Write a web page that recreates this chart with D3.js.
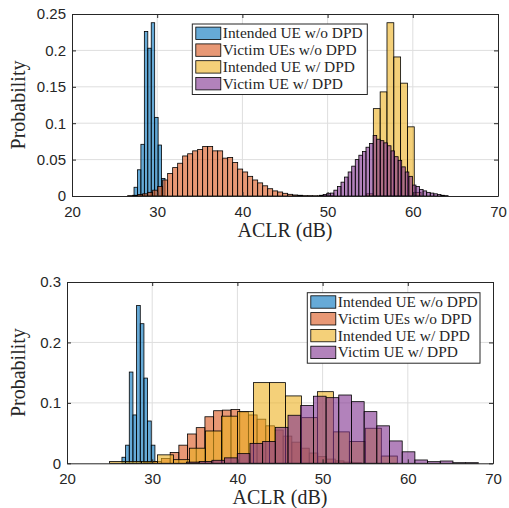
<!DOCTYPE html>
<html>
<head>
<meta charset="utf-8">
<script src="https://cdn.jsdelivr.net/npm/d3@7"></script>
<style>
	body { margin: 0; background: #fff; }
	svg { display: block; }
	.tick text { font-family: "Liberation Sans", Arial, Helvetica, sans-serif; font-size: 15px; fill: #262626; }
</style>
</head>
<body>
<div id="chart"></div>
<script>
// series shared by both panels
const seriesNames = ["Intended UE w/o DPD", "Victim UEs w/o DPD", "Intended UE w/ DPD", "Victim UE w/ DPD"]
const seriesColors = ["#0072BD", "#D95319", "#EDB120", "#7E2F8E"]

const xTicks = [20, 30, 40, 50, 60, 70]
const serif = "'Liberation Serif', 'Times New Roman', Times, 'DejaVu Serif', serif"

// top panel: [first bin edge, bin width] in dB, then probabilities per bin
const topBins = [[27.28, 0.404], [26.53, 0.587], [54.57, 0.8], [49.06, 0.419]]
const topBlue = [0.012, 0.036, 0.071, 0.226, 0.203, 0.238, 0.108, 0.070, 0.024]
const topOrange = [0.0005, 0.001, 0.002, 0.003, 0.005, 0.008, 0.013,
	0.022, 0.031, 0.039, 0.045, 0.055, 0.058, 0.062, 0.064, 0.068, 0.068,
	0.062, 0.062, 0.052, 0.053, 0.046, 0.037, 0.033, 0.027, 0.022, 0.018,
	0.014, 0.010, 0.007, 0.0055, 0.0037, 0.0023, 0.0014, 0.001, 0.0005,
	0.0005, 0.0004, 0.0003, 0.0003, 0.0002]
const topYellow = [0.003, 0.12, 0.143, 0.238, 0.191, 0.155, 0.095, 0.005]
const topPurple = [0.001, 0.002, 0.0037, 0.004, 0.008, 0.013, 0.019, 0.026, 0.033,
	0.041, 0.050, 0.056, 0.061, 0.067, 0.072, 0.083, 0.078, 0.076, 0.073,
	0.069, 0.062, 0.054, 0.049, 0.040, 0.033, 0.027, 0.015, 0.013, 0.009,
	0.007, 0.005, 0.004, 0.003, 0.002, 0.001, 0.0005]
const topYTicks = [0, 0.05, 0.1, 0.15, 0.2, 0.25]
const topYLabels = ["0", "0.05", "0.1", "0.15", "0.2", "0.25"]

// bottom panel
const botBins = [[26.45, 0.43], [29.05, 1.02], [25.0, 1.876], [34.03, 1.489]]
const botBlue = [0.010, 0.030, 0.151, 0.080, 0.261, 0.231, 0.141, 0.070, 0.030]
const botOrange = [0.001, 0.003, 0.008, 0.018, 0.030, 0.0485, 0.059, 0.077, 0.087,
	0.088, 0.089, 0.085, 0.080, 0.073, 0.062, 0.055, 0.045, 0.035, 0.025,
	0.017, 0.011, 0.007, 0.004, 0.002, 0.001]
const botYellow = [0.003, 0.003, 0.003, 0.014, 0.006, 0.025, 0.0535, 0.078, 0.0855,
	0.1335, 0.1335, 0.1115, 0.0755, 0.1185, 0.052, 0.036, 0.058, 0.012]
const botPurple = [0.002, 0.003, 0.005, 0.009, 0.016, 0.033, 0.036, 0.0595, 0.0795,
	0.0955, 0.111, 0.1086, 0.113, 0.102, 0.0855, 0.062, 0.037, 0.019, 0.0055,
	0.0027, 0.0038, 0.001, 0.001]
const botYTicks = [0, 0.1, 0.2, 0.3]
const botYLabels = ["0", "0.1", "0.2", "0.3"]

const svg = d3.select("#chart").append("svg")
	.attr("width", 509)
	.attr("height", 508)

function panel(opt) {
	const x = d3.scaleLinear().domain([20, 70]).range([opt.left, opt.right])
	const y = d3.scaleLinear().domain(opt.yDomain).range([opt.bottom, opt.top])
	const g = svg.append("g")

	// grid
	g.append("g").selectAll("line")
		.data(xTicks.slice(1, -1)).enter().append("line")
		.attr("x1", d => x(d)).attr("x2", d => x(d))
		.attr("y1", opt.top).attr("y2", opt.bottom)
		.attr("stroke", "#dedede").attr("stroke-width", 1)
	g.append("g").selectAll("line")
		.data(opt.yTicks.slice(1, -1)).enter().append("line")
		.attr("x1", opt.left).attr("x2", opt.right)
		.attr("y1", d => y(d)).attr("y2", d => y(d))
		.attr("stroke", "#dedede").attr("stroke-width", 1)

	// histograms, drawn in legend order
	opt.series.forEach((vals, i) => {
		const [start, w] = opt.bins[i]
		g.append("g").selectAll("rect")
			.data(vals.map((v, j) => ({ x0: start + j * w, x1: start + (j + 1) * w, v })))
			.enter().append("rect")
			.attr("x", d => x(d.x0))
			.attr("width", d => x(d.x1) - x(d.x0))
			.attr("y", d => y(d.v))
			.attr("height", d => y(0) - y(d.v))
			.attr("fill", seriesColors[i])
			.attr("fill-opacity", 0.6)
			.attr("stroke", "#000")
			.attr("stroke-width", 0.8)
	})

	// axes with inward ticks on all four sides
	const gx = g.append("g").attr("transform", `translate(0,${opt.bottom})`)
		.call(d3.axisBottom(x).tickValues(xTicks).tickSize(-4).tickSizeOuter(0).tickPadding(10).tickFormat(d3.format("d")))
	const gy = g.append("g").attr("transform", `translate(${opt.left},0)`)
		.call(d3.axisLeft(y).tickValues(opt.yTicks).tickSize(-4).tickSizeOuter(0).tickPadding(6)
			.tickFormat((d, i) => opt.yLabels[i]))
	const gt = g.append("g").attr("transform", `translate(0,${opt.top})`)
		.call(d3.axisTop(x).tickValues(xTicks).tickSize(-4).tickSizeOuter(0).tickFormat(""))
	const gr = g.append("g").attr("transform", `translate(${opt.right},0)`)
		.call(d3.axisRight(y).tickValues(opt.yTicks).tickSize(-4).tickSizeOuter(0).tickFormat(""))
	;[gx, gy, gt, gr].forEach(a => {
		a.selectAll("path.domain").attr("stroke", "#262626").attr("stroke-width", 1)
		a.selectAll(".tick line").attr("stroke", "#262626")
	})
	gx.selectAll(".tick text").attr("fill", "#262626")
	gy.selectAll(".tick text").attr("fill", "#262626")

	// labels
	g.append("text")
		.attr("x", (opt.left + opt.right) / 2).attr("y", opt.bottom + 41)
		.attr("text-anchor", "middle")
		.attr("font-family", serif).attr("font-size", 20).attr("fill", "#262626")
		.text("ACLR (dB)")
	g.append("text")
		.attr("transform", `translate(25,${(opt.top + opt.bottom) / 2}) rotate(-90)`)
		.attr("text-anchor", "middle")
		.attr("font-family", serif).attr("font-size", 20).attr("fill", "#262626")
		.text("Probability")

	// legend
	const lg = g.append("g").attr("transform", `translate(${opt.legX},${opt.legY})`)
	lg.append("rect")
		.attr("width", opt.legW).attr("height", 70.5)
		.attr("fill", "#fff").attr("stroke", "#262626").attr("stroke-width", 1)
	seriesNames.forEach((name, i) => {
		const row = lg.append("g").attr("transform", `translate(0,${9.3 + i * 16.8})`)
		row.append("rect")
			.attr("x", 3.5).attr("y", -6.2).attr("width", 25).attr("height", 12.4)
			.attr("fill", seriesColors[i]).attr("fill-opacity", 0.6)
			.attr("stroke", "#000").attr("stroke-width", 0.8)
		row.append("text")
			.attr("x", 30.5).attr("y", 5)
			.attr("font-family", serif).attr("font-size", 15.4).attr("fill", "#262626")
			.text(name)
	})
}

panel({
	left: 72, right: 498, top: 14, bottom: 196,
	yDomain: [0, 0.25], yTicks: topYTicks, yLabels: topYLabels,
	bins: topBins, series: [topBlue, topOrange, topYellow, topPurple],
	legX: 192.3, legY: 24, legW: 175
})

panel({
	left: 67, right: 493, top: 282, bottom: 463.3,
	yDomain: [0, 0.3], yTicks: botYTicks, yLabels: botYLabels,
	bins: botBins, series: [botBlue, botOrange, botYellow, botPurple],
	legX: 307.3, legY: 292.7, legW: 172.7
})
</script>
</body>
</html>
